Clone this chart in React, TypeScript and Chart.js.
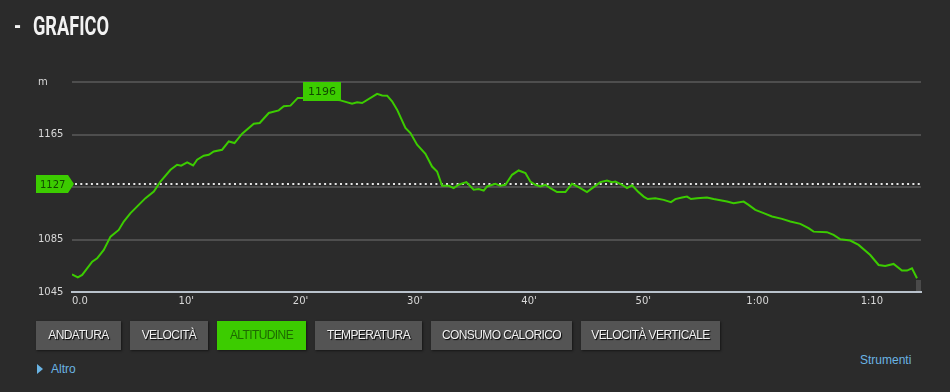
import React, { useEffect, useRef } from "react";
import { Chart, registerables } from "chart.js";

Chart.register(...registerables);

// ---- data ----
const minutes = [
  0, 0.51, 0.89, 1.77, 2.2, 2.78, 3.37, 4.09, 4.53, 5.12, 5.84, 6.43, 7.16, 7.74, 8.62, 9.2, 9.55, 10.08, 10.6, 10.95,
  11.53, 11.97, 12.41, 13.14, 13.72, 14.22, 14.89, 15.91, 16.43, 17.22, 18.09, 18.53, 19.12, 19.76, 20.23, 21.74, 23.49,
  24.51, 24.95, 25.39, 26.7, 27.14, 27.58, 28.01, 28.45, 29.18, 29.62, 30.2, 30.93, 31.51, 31.95, 32.39, 32.97, 33.4,
  33.84, 34.51, 35.15, 35.59, 36.03, 36.33, 37.05, 37.49, 37.93, 38.51, 39.09, 39.68, 40.11, 40.55, 40.99, 41.43, 41.86,
  42.45, 43.18, 43.76, 44.34, 45.07, 45.65, 46.24, 46.82, 47.26, 47.55, 48.14, 48.57, 49.01, 49.52, 50.03, 50.39, 51.05,
  51.78, 52.42, 52.8, 53.39, 53.82, 54.17, 54.7, 55.57, 56.15, 57.32, 57.9, 58.78, 59.21, 59.8, 60.53, 61.26, 62.14,
  62.86, 63.74, 64.46, 64.9, 66.07, 66.65, 67.24, 68.11, 68.84, 69.86, 70.59, 71.17, 71.9, 72.63, 73.07, 73.51, 73.95,
];
const altitude = [
  1058.5, 1056.2, 1058.0, 1068.1, 1070.7, 1077.1, 1087.2, 1092.3, 1098.7, 1105.1, 1111.4, 1116.5, 1121.6, 1129.2, 1138.1,
  1141.9, 1141.2, 1143.7, 1141.4, 1145.8, 1148.8, 1149.6, 1152.1, 1153.4, 1159.7, 1158.5, 1165.6, 1173.2, 1173.8, 1181.4,
  1183.4, 1186.5, 1187.0, 1192.9, 1192.9, 1192.7, 1191.0, 1188.5, 1189.5, 1189.0, 1196.0, 1194.8, 1194.6, 1190.3, 1183.9,
  1170.0, 1166.1, 1157.2, 1150.3, 1140.6, 1136.8, 1125.9, 1125.9, 1124.2, 1126.7, 1128.7, 1122.9, 1123.4, 1122.3, 1125.4,
  1127.4, 1125.9, 1126.7, 1134.3, 1137.6, 1135.6, 1129.2, 1126.7, 1125.4, 1126.7, 1124.2, 1121.1, 1121.1, 1127.4, 1124.9,
  1121.1, 1124.9, 1128.7, 1130.0, 1128.7, 1129.2, 1126.7, 1124.2, 1126.3, 1121.6, 1117.7, 1115.8, 1116.5, 1115.2, 1113.5,
  1115.8, 1117.0, 1117.7, 1115.8, 1116.5, 1117.0, 1115.8, 1113.9, 1112.7, 1113.9, 1111.4, 1107.6, 1105.1, 1102.5, 1100.7,
  1098.7, 1096.9, 1093.6, 1091.0, 1090.6, 1088.5, 1085.2, 1084.2, 1080.9, 1073.2, 1065.6, 1064.8, 1066.4, 1061.3, 1061.3,
  1063.1, 1055.5,
];
const xTickValues = [0, 10, 20, 30, 40, 50, 60, 70];
const xTickLabels = ["0.0", "10'", "20'", "30'", "40'", "50'", "1:00", "1:10"];
const xMax = 74.3;
const yTickValues = [1045, 1085, 1125, 1165, 1205];
const yTickLabels = ["1045", "1085", "", "1165", "m"];
const avgAltitude = 1127;
const maxAltitude = 1196;
const maxLabelMinute = 20.25;
const buttons = ["ANDATURA", "VELOCITÀ", "ALTITUDINE", "TEMPERATURA", "CONSUMO CALORICO", "VELOCITÀ VERTICALE"];
const activeButton = "ALTITUDINE";

// layout constants (not data)
const BUTTON_WIDTHS = [85, 78, 89, 107, 141, 139];
const GREEN = "#3ccc00";
const BG = "#2b2b2b";
const TICK_FONT = { family: "'DejaVu Sans', sans-serif", size: 10 };

const overlayPlugin = {
  id: "overlay",
  beforeDatasetsDraw(chart: any) {
    const { ctx, chartArea, scales } = chart;
    const yy = Math.round(scales.y.getPixelForValue(avgAltitude));
    ctx.save();
    ctx.strokeStyle = "#e6e6e6";
    ctx.lineWidth = 2;
    ctx.setLineDash([2, 3.3]);
    ctx.beginPath();
    ctx.moveTo(chartArea.left + 3, yy);
    ctx.lineTo(chartArea.right, yy);
    ctx.stroke();
    ctx.restore();
  },
  afterDatasetsDraw(chart: any) {
    const { ctx, chartArea, scales } = chart;
    const L = chartArea.left;
    const yy = Math.round(scales.y.getPixelForValue(avgAltitude));
    ctx.save();
    // end-of-track handle
    ctx.fillStyle = "#4a4a4a";
    ctx.fillRect(chartArea.right - 5, chartArea.bottom - 12, 5, 11);
    ctx.fillStyle = GREEN;
    ctx.beginPath();
    ctx.moveTo(L - 36, yy - 9);
    ctx.lineTo(L - 4, yy - 9);
    ctx.lineTo(L + 2, yy);
    ctx.lineTo(L - 4, yy + 9);
    ctx.lineTo(L - 36, yy + 9);
    ctx.closePath();
    ctx.fill();
    ctx.fillStyle = "#124a00";
    ctx.font = "10px 'DejaVu Sans', sans-serif";
    ctx.textAlign = "left";
    ctx.textBaseline = "middle";
    ctx.fillText(String(avgAltitude), L - 32, yy + 1);

    const bx = Math.round(scales.x.getPixelForValue(maxLabelMinute));
    const by = Math.round(scales.y.getPixelForValue(maxAltitude));
    ctx.fillStyle = GREEN;
    ctx.fillRect(bx, by - 12, 38, 19);
    ctx.fillStyle = "#124a00";
    ctx.textAlign = "center";
    ctx.font = "11px 'DejaVu Sans', sans-serif";
    ctx.fillText(String(maxAltitude), bx + 19, by - 2);
    ctx.restore();
  },
};

function AltitudeChart() {
  const ref = useRef<HTMLCanvasElement>(null);
  useEffect(() => {
    if (!ref.current) return;
    const chart = new Chart(ref.current, {
      type: "line",
      data: {
        datasets: [
          {
            data: minutes.map((m, i) => ({ x: m, y: altitude[i] })),
            borderColor: GREEN,
            borderWidth: 2,
            pointRadius: 0,
            tension: 0,
            fill: false,
          },
        ],
      },
      options: {
        animation: false,
        responsive: false,
        events: [],
        layout: { padding: { left: 38, right: 29, top: 82, bottom: 8 } },
        plugins: { legend: { display: false }, tooltip: { enabled: false } },
        scales: {
          x: {
            type: "linear",
            min: 0,
            max: xMax,
            afterBuildTicks: (s: any) => {
              s.ticks = [...xTickValues, xMax].map((v) => ({ value: v }));
            },
            afterFit: (s: any) => {
              s.height = 20;
            },
            grid: { display: false, drawTicks: false },
            border: { display: true, color: "#b9c2cc", width: 2 },
            ticks: {
              align: "inner",
              padding: 3,
              maxRotation: 0,
              autoSkip: false,
              color: "#d8d8d8",
              font: TICK_FONT,
              callback: (v: any) => {
                const i = xTickValues.indexOf(v);
                return i >= 0 ? xTickLabels[i] : "";
              },
            },
          },
          y: {
            type: "linear",
            min: 1045,
            max: 1205,
            afterBuildTicks: (s: any) => {
              s.ticks = yTickValues.map((v) => ({ value: v }));
            },
            afterFit: (s: any) => {
              s.width = 34;
            },
            grid: { color: "#4e4e4e", lineWidth: 2, drawTicks: false },
            border: { display: false },
            ticks: {
              crossAlign: "far",
              padding: 0,
              color: "#d8d8d8",
              font: TICK_FONT,
              callback: (v: any) => {
                const i = yTickValues.indexOf(v);
                return i >= 0 ? yTickLabels[i] : "";
              },
            },
          },
        },
      } as any,
      plugins: [overlayPlugin],
    });
    return () => chart.destroy();
  }, []);
  return (
    <canvas
      ref={ref}
      width={950}
      height={320}
      style={{ position: "absolute", left: 0, top: 0, width: 950, height: 320 }}
    />
  );
}

export default function App() {
  return (
    <div
      style={{
        position: "fixed",
        left: 0,
        top: 0,
        width: 950,
        height: 392,
        background: BG,
        overflow: "hidden",
        fontFamily: "'Liberation Sans', Arial, sans-serif",
      }}
    >
      <AltitudeChart />
      <div
        style={{
          position: "absolute",
          left: 14,
          top: 9,
          color: "#f2f2f2",
          fontFamily: "Roboto, 'DejaVu Sans', sans-serif",
          fontWeight: 700,
          fontSize: 26,
          lineHeight: "34px",
          transform: "scaleX(0.7)",
          transformOrigin: "left center",
          whiteSpace: "nowrap",
        }}
      >
        <span style={{ display: "inline-block", width: 27 }}>-</span>GRAFICO
      </div>
      <div style={{ position: "absolute", left: 36, top: 321, display: "flex", gap: 9 }}>
        {buttons.map((b, i) => {
          const active = b === activeButton;
          return (
            <div
              key={b}
              style={{
                width: BUTTON_WIDTHS[i],
                height: 29,
                lineHeight: "29px",
                textAlign: "center",
                background: active ? GREEN : "#545454",
                color: active ? "#1e6a00" : "#f0f0f0",
                fontSize: 12,
                letterSpacing: -0.6,
                textShadow: active ? "none" : "1px 1px 1px #000",
                boxShadow: "1px 1px 2px rgba(0,0,0,0.5)",
                whiteSpace: "nowrap",
              }}
            >
              {b}
            </div>
          );
        })}
      </div>
      <div
        style={{
          position: "absolute",
          left: 37,
          top: 362,
          color: "#6ab4e4",
          fontSize: 12,
          display: "flex",
          alignItems: "center",
          gap: 8,
        }}
      >
        <span
          style={{
            width: 0,
            height: 0,
            borderTop: "5px solid transparent",
            borderBottom: "5px solid transparent",
            borderLeft: "6px solid #6ab4e4",
          }}
        />
        <span>Altro</span>
      </div>
      <div style={{ position: "absolute", left: 860, top: 353, color: "#6ab4e4", fontSize: 12, letterSpacing: 0 }}>
        Strumenti
      </div>
    </div>
  );
}
